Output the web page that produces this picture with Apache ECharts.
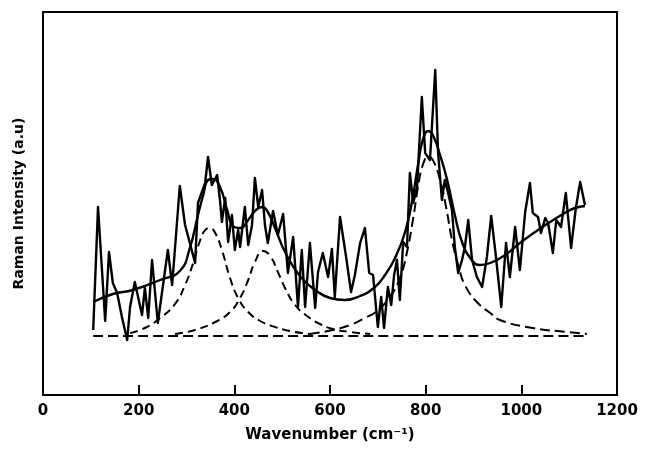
<!DOCTYPE html>
<html><head><meta charset="utf-8">
<script src="https://cdn.jsdelivr.net/npm/echarts@6/dist/echarts.min.js"></script>
<style>html,body{margin:0;padding:0;background:#fff}#c{width:645px;height:455px}</style>
</head><body><div id="c"></div>
<script>
const xTicks = [0, 200, 400, 600, 800, 1000, 1200];
const rawWn = [105,115,130,138,146,155,159,165,176,182,192,207,213,220,228,240,261,270,286,297,307,318,324,339,345,353,364,370,374,381,387,395,401,408,412,422,429,437,443,450,458,464,470,481,491,502,512,523,533,541,548,558,569,575,585,596,604,610,621,634,644,652,663,673,682,690,700,707,713,721,728,734,740,746,753,761,767,774,782,792,799,809,820,826,834,840,847,855,861,868,876,882,889,897,907,918,928,937,947,958,968,976,987,997,1008,1018,1024,1035,1041,1050,1056,1066,1073,1083,1093,1104,1114,1123,1133];
const rawInt = [65,188,74,143,112,102,103,78,55,88,113,80,107,77,135,72,145,110,209,170,152,132,192,212,238,210,220,195,173,197,153,180,145,165,148,188,150,170,217,188,205,170,152,184,160,181,122,158,88,145,88,152,87,123,142,118,146,98,178,137,103,120,152,167,122,120,68,98,67,108,90,120,135,95,153,148,222,192,208,298,242,235,325,242,195,215,202,185,148,122,135,148,175,135,118,108,138,179,138,88,152,118,168,125,183,212,182,178,162,177,172,142,175,168,202,147,187,213,190];
const fitWn = [105,146,188,245,286,307,324,335,345,355,370,385,397,412,429,445,458,470,485,506,537,569,600,631,663,694,715,736,757,772,784,794,805,815,830,845,861,876,893,914,935,966,997,1029,1060,1091,1112,1133];
const fitInt = [93,101,105,115,124,147,180,200,215,216,208,185,169,167,175,185,188,183,167,143,119,105,97,95,99,108,120,137,163,195,230,255,264,260,240,215,180,153,137,130,132,140,152,163,173,182,187,189];
const p1Wn = [182,213,245,276,297,314,328,339,349,360,374,391,408,429,454,485,516,558];
const p1Int = [62,67,77,91,110,132,154,165,167,162,145,117,97,83,74,68,64,61];
const p2Wn = [276,318,360,391,412,429,443,460,475,491,506,527,552,579,606,642,684];
const p2Int = [61,65,73,83,97,115,133,144,139,123,107,90,79,71,66,63,61];
const p3Wn = [558,606,642,673,698,725,746,761,774,784,794,805,815,830,843,855,868,882,907,935,955,1024,1096,1137];
const p3Int = [61,65,70,77,84,98,117,143,177,208,230,238,235,215,187,155,130,110,93,82,75,67,63,61];
const baseWn = [105,1137];
const baseInt = [59,59];

const pairs = (a, b) => a.map((x, i) => [x, b[i]]);
const chart = echarts.init(document.getElementById('c'), null, {renderer: 'canvas'});
const font = '"DejaVu Sans", sans-serif';
const dashed = (name, wn, v, dash) => ({
  name, type: 'line', data: pairs(wn, v), showSymbol: false, smooth: true,
  lineStyle: {color: '#000', width: 2, type: dash}, z: 2
});
chart.setOption({
  animation: false,
  backgroundColor: '#fff',
  grid: {left: 43, right: 28, top: 12, bottom: 60, show: true, borderColor: '#000', borderWidth: 2},
  xAxis: {
    type: 'value', min: xTicks[0], max: xTicks[xTicks.length - 1], interval: 200,
    name: 'Wavenumber (cm\u207B\u00B9)', nameLocation: 'middle', nameGap: 33,
    nameTextStyle: {fontFamily: font, fontWeight: 'bold', fontSize: 15, color: '#000'},
    axisLine: {show: true, lineStyle: {color: '#000', width: 2}},
    axisTick: {show: true, inside: true, length: 10, lineStyle: {color: '#000', width: 2}},
    axisLabel: {fontFamily: font, fontWeight: 'bold', fontSize: 15, color: '#000', margin: 9,
      formatter: v => String(v)},
    splitLine: {show: false}
  },
  yAxis: {
    type: 'value', min: 0, max: 383,
    name: 'Raman Intensity (a.u)', nameLocation: 'middle', nameGap: 17,
    nameTextStyle: {fontFamily: font, fontWeight: 'bold', fontSize: 14, color: '#000'},
    axisLine: {show: true, lineStyle: {color: '#000', width: 2}},
    axisTick: {show: false}, axisLabel: {show: false}, splitLine: {show: false}
  },
  series: [
    dashed('Baseline', baseWn, baseInt, [10, 5]),
    dashed('Peak 1', p1Wn, p1Int, [8, 5]),
    dashed('Peak 2', p2Wn, p2Int, [8, 5]),
    dashed('Peak 3', p3Wn, p3Int, [10, 5]),
    {name: 'Fit', type: 'line', data: pairs(fitWn, fitInt), showSymbol: false, smooth: true,
     lineStyle: {color: '#000', width: 2.4}, z: 3},
    {name: 'Raw', type: 'line', data: pairs(rawWn, rawInt), showSymbol: false,
     lineStyle: {color: '#000', width: 2.4, join: 'round'}, z: 4}
  ]
});
</script></body></html>
